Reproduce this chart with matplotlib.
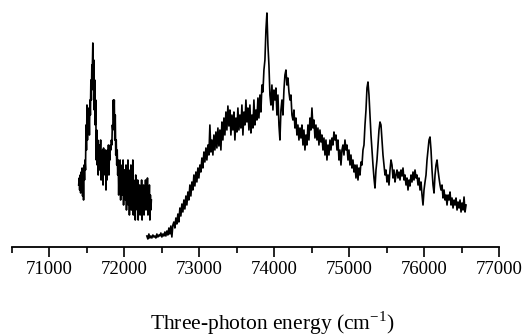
import numpy as np
import matplotlib
matplotlib.use("Agg")
import matplotlib.pyplot as plt

plt.rcParams["font.family"] = "Liberation Serif"
plt.rcParams["mathtext.fontset"] = "custom"
plt.rcParams["mathtext.rm"] = "Liberation Serif"

# Low-energy band (71390 - 72360 cm-1), intensity in arbitrary units
seg1_int = [
    62, 69, 57, 72, 54, 75, 64, 79, 51, 77, 47, 82, 67, 87, 77, 122,
    97, 142, 107, 137, 122, 139, 112, 147, 132, 167, 147, 182, 177, 204, 157, 187,
    137, 167, 122, 147, 87, 117, 82, 107, 72, 97, 77, 102, 87, 107, 67, 92,
    77, 97, 62, 99, 82, 92, 72, 97, 57, 87, 67, 97, 82, 102, 72, 92,
    87, 102, 97, 107, 102, 122, 117, 147, 127, 147, 107, 132, 92, 107, 82, 97,
    72, 87, 52, 82, 67, 87, 47, 77, 62, 82, 52, 87, 42, 77, 62, 77,
    47, 82, 37, 72, 57, 87, 42, 77, 32, 69, 52, 82, 37, 62, 47, 87,
    32, 67, 42, 62, 27, 72, 47, 62, 37, 67, 27, 57, 42, 62, 32, 52,
    37, 67, 27, 57, 47, 62, 32, 52, 42, 67, 37, 57, 47, 69, 32, 57,
    42, 62, 27, 52, 37, 47,
]

# Main band (72300 - 76560 cm-1)
seg2_int = [
    11, 8, 13, 9, 11, 9, 12, 10, 11, 9, 13, 10, 12, 11, 14, 10,
    13, 11, 15, 11, 16, 12, 19, 13, 21, 10, 22, 25, 19, 29, 23, 33,
    25, 39, 31, 43, 35, 47, 38, 51, 42, 55, 47, 62, 51, 65, 57, 72,
    61, 75, 65, 79, 69, 82, 75, 89, 79, 95, 85, 99, 87, 102, 92, 122,
    95, 107, 92, 112, 97, 115, 99, 119, 101, 117, 97, 125, 107, 129, 112, 135,
    117, 141, 121, 137, 112, 132, 117, 135, 107, 129, 115, 139, 117, 132, 119, 142,
    112, 135, 122, 147, 125, 139, 117, 142, 114, 132, 119, 147, 122, 137, 127, 149,
    129, 152, 135, 162, 155, 177, 187, 217, 234, 202, 182, 152, 142, 162, 137, 157,
    147, 159, 132, 152, 122, 107, 137, 147, 132, 157, 172, 177, 162, 169, 155, 147,
    152, 132, 127, 137, 119, 129, 112, 122, 107, 119, 109, 122, 102, 117, 97, 112,
    102, 122, 107, 129, 117, 139, 119, 127, 109, 122, 107, 119, 102, 117, 105, 112,
    97, 109, 92, 107, 87, 102, 92, 107, 97, 109, 102, 115, 107, 112, 97, 107,
    87, 97, 82, 97, 102, 92, 107, 97, 102, 87, 97, 82, 92, 79, 87, 75,
    82, 69, 82, 67, 79, 72, 85, 82, 97, 102, 122, 137, 159, 165, 152, 132,
    112, 97, 82, 69, 59, 77, 87, 102, 117, 125, 122, 107, 92, 82, 72, 77,
    65, 72, 62, 77, 87, 82, 69, 77, 65, 72, 77, 69, 75, 67, 77, 71,
    79, 67, 72, 62, 69, 57, 67, 61, 72, 65, 75, 67, 77, 69, 72, 62,
    69, 57, 65, 52, 42, 57, 65, 72, 87, 97, 107, 110, 97, 77, 62, 54,
    72, 82, 87, 77, 69, 62, 57, 62, 49, 57, 47, 52, 42, 52, 47, 55,
    42, 49, 39, 47, 42, 49, 37, 45, 39, 47, 35, 44, 37, 50, 35, 42,
]

seg1_e = np.linspace(71390, 72360, len(seg1_int))
seg2_e = np.linspace(72300, 76560, len(seg2_int))

xticks = [71000, 72000, 73000, 74000, 75000, 76000, 77000]

fig = plt.figure(figsize=(5.24, 3.36), dpi=100)
ax = fig.add_axes([12 / 524, 89 / 336, 487 / 524, 247 / 336])

ax.plot(seg1_e, seg1_int, color="black", lw=1.2)
ax.plot(seg2_e, seg2_int, color="black", lw=1.2)

ax.set_xlim(70500, 77000)
ax.set_ylim(0, 247)

for side in ["top", "right", "left"]:
    ax.spines[side].set_visible(False)
ax.spines["bottom"].set_linewidth(1.3)
ax.set_yticks([])

ax.set_xticks(xticks)
ax.set_xticks([70500, 71500, 72500, 73500, 74500, 75500, 76500], minor=True)
ax.tick_params(axis="x", which="major", length=7, width=1.2, labelsize=13.5, pad=3)
ax.tick_params(axis="x", which="minor", length=4, width=1.2)

fig.text(272 / 524, 13 / 336, r"Three-photon energy (cm$^{\mathregular{-1}}$)",
         ha="center", va="center", fontsize=15.5)

fig.savefig("out.png", dpi=100)
